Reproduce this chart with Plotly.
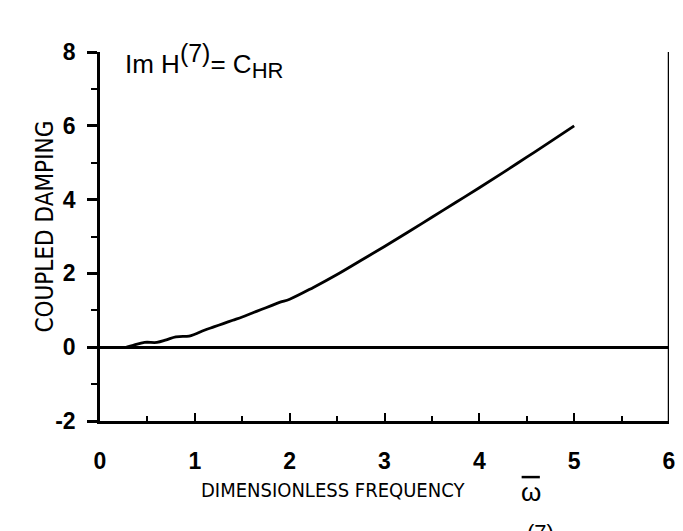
import plotly.graph_objects as go

freq = [0.28, 0.35, 0.47, 0.6, 0.7, 0.8, 0.94, 1.0, 1.1, 1.2, 1.3, 1.4, 1.5, 1.6, 1.7,
        1.8, 1.9, 2.0, 2.25, 2.5, 2.75, 3.0, 3.25, 3.5, 3.75, 4.0, 4.25, 4.5, 4.75, 5.0]
damping = [0.0, 0.05, 0.13, 0.13, 0.2, 0.28, 0.3, 0.35, 0.46, 0.55, 0.64, 0.73, 0.82,
           0.92, 1.02, 1.12, 1.22, 1.3, 1.62, 1.97, 2.35, 2.73, 3.12, 3.52, 3.92, 4.32,
           4.73, 5.15, 5.57, 6.0]
x_ticks = [0, 1, 2, 3, 4, 5, 6]
y_ticks = [-2, 0, 2, 4, 6, 8]

font_family = "Liberation Sans, Arial, sans-serif"
narrow_family = "Liberation Sans Narrow, DejaVu Sans Condensed, Liberation Sans, sans-serif"

fig = go.Figure()
fig.add_trace(go.Scatter(x=freq, y=damping, mode="lines",
                         line=dict(color="black", width=2.8), line_shape="spline",
                         showlegend=False, hoverinfo="skip"))

fig.update_layout(
    width=683, height=531,
    margin=dict(l=100, r=8, t=52, b=110),
    paper_bgcolor="white", plot_bgcolor="white",
    font=dict(family=font_family, color="black", size=17),
    xaxis=dict(range=[0, 6], tickvals=x_ticks, ticktext=[str(v) for v in x_ticks],
               showline=True, linecolor="black", linewidth=2.5,
               ticks="inside", ticklen=8, tickwidth=2, tickcolor="black",
               minor=dict(dtick=0.5, ticks="inside", ticklen=5, tickwidth=1.5, tickcolor="black"),
               showgrid=False, zeroline=False, ticklabelstandoff=18,
               tickfont=dict(size=23, weight="bold")),
    yaxis=dict(range=[-2, 8], tickvals=y_ticks, ticktext=[str(v) for v in y_ticks],
               showline=True, linecolor="black", linewidth=2.5,
               ticks="outside", ticklen=10, tickwidth=2.5, tickcolor="black",
               minor=dict(dtick=1, ticks="outside", ticklen=6, tickwidth=2, tickcolor="black"),
               showgrid=False, zeroline=True, zerolinecolor="black", zerolinewidth=2.8,
               ticklabelstandoff=7, tickfont=dict(size=23, weight="bold")),
    shapes=[dict(type="line", xref="x", yref="y", x0=6, x1=6, y0=-2, y1=8,
                 line=dict(color="black", width=2.5)),
            dict(type="line", xref="paper", yref="paper", x0=0.741, x1=0.773,
                 y0=-0.152, y1=-0.152, line=dict(color="black", width=2.5))],
    annotations=[
        dict(text="Im H<sup><span style='font-size:25px'>(7)</span></sup>= C"
                  "<sub><span style='font-size:22px'>HR</span></sub>",
             xref="paper", yref="paper",
             x=0.04, y=1.04, xanchor="left", yanchor="top", showarrow=False,
             font=dict(size=26)),
        dict(text="COUPLED DAMPING", xref="paper", yref="paper", x=-0.096, y=0.528,
             xanchor="center", yanchor="middle",
             textangle=-90, showarrow=False, font=dict(size=24, family=narrow_family)),
        dict(text="DIMENSIONLESS FREQUENCY", xref="paper", yref="paper", x=0.409, y=-0.187,
             xanchor="center", yanchor="middle",
             showarrow=False, font=dict(size=20, family=narrow_family)),
        dict(text="\u03c9", xref="paper", yref="paper", x=0.757, y=-0.192,
             xanchor="center", yanchor="middle",
             showarrow=False, font=dict(size=26)),
        dict(text="(7)", xref="paper", yref="paper", x=0.775, y=-0.262, yanchor="top",
             xanchor="center", showarrow=False, font=dict(size=22)),
    ],
)

fig.write_html("out.html")
